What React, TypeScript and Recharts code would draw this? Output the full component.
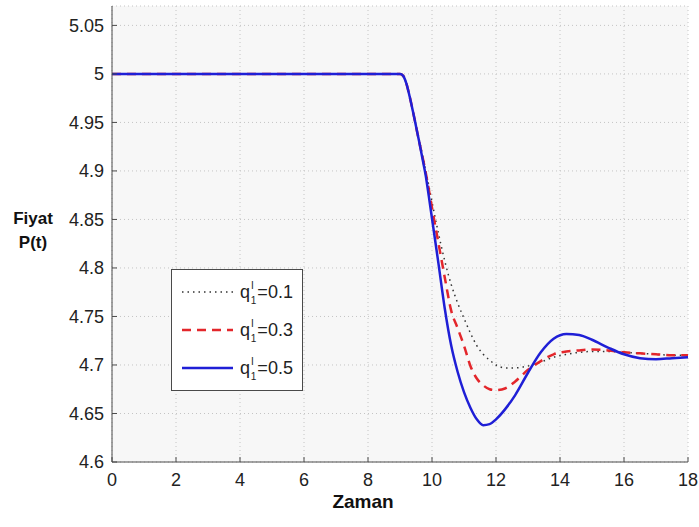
import React from "react"
import { LineChart, Line, XAxis, YAxis, CartesianGrid, Legend } from "recharts"

// time axis (Zaman)
const times = [
  0, 9, 9.1, 9.2, 9.3, 9.4, 9.5, 9.6, 9.7, 9.8, 9.9, 10, 10.2, 10.4, 10.6, 10.8, 11, 11.2, 11.4,
  11.6, 11.8, 12, 12.3, 12.6, 13, 13.4, 13.8, 14.2, 14.6, 15, 15.5, 16, 16.5, 17, 17.5, 18,
]

// P(t) for q1 = 0.1
const q01 = [
  5, 5, 4.998, 4.99, 4.977, 4.962, 4.947, 4.932, 4.917, 4.901, 4.885, 4.868, 4.836, 4.807, 4.783,
  4.764, 4.748, 4.733, 4.72, 4.711, 4.705, 4.7, 4.697, 4.697, 4.699, 4.703, 4.708, 4.711, 4.713,
  4.714, 4.714, 4.713, 4.712, 4.711, 4.71, 4.71,
]

// P(t) for q1 = 0.3
const q03 = [
  5, 5, 4.998, 4.99, 4.977, 4.962, 4.946, 4.93, 4.915, 4.899, 4.881, 4.862, 4.826, 4.79, 4.756,
  4.738, 4.72, 4.699, 4.686, 4.679, 4.675, 4.674, 4.676, 4.683, 4.695, 4.704, 4.711, 4.714, 4.715,
  4.716, 4.715, 4.713, 4.712, 4.711, 4.71, 4.71,
]

// P(t) for q1 = 0.5
const q05 = [
  5, 5, 4.998, 4.99, 4.977, 4.962, 4.946, 4.93, 4.913, 4.896, 4.874, 4.851, 4.805, 4.758, 4.72,
  4.693, 4.672, 4.656, 4.644, 4.638, 4.639, 4.644, 4.655, 4.669, 4.692, 4.713, 4.727, 4.732, 4.731,
  4.726, 4.718, 4.711, 4.707, 4.706, 4.707, 4.708,
]

const xTicks = [0, 2, 4, 6, 8, 10, 12, 14, 16, 18]
const yTicks = [4.6, 4.65, 4.7, 4.75, 4.8, 4.85, 4.9, 4.95, 5, 5.05]

const legendLabels = ["0.1", "0.3", "0.5"]

const data = times.map((t, i) => ({ t, a: q01[i], b: q03[i], c: q05[i] }))

const series = [
  { key: "a", color: "#333333", width: 1.5, dash: "1.5 4" },
  { key: "b", color: "#e3262b", width: 2.5, dash: "9 6" },
  { key: "c", color: "#1f1fd6", width: 2.5, dash: undefined },
]

const font = "'Liberation Sans', Arial, sans-serif"
const axisColor = "#4a4a4a"

function BottomTick({ x, y, payload }: any) {
  return (
    <g>
      <line x1={x} x2={x} y1={y - 11} y2={y - 16} stroke={axisColor} />
      <text x={x} y={y} dy="0.71em" textAnchor="middle" fontSize={18} fill="#222" fontFamily={font}>
        {payload.value}
      </text>
    </g>
  )
}

function LeftTick({ x, y, payload }: any) {
  return (
    <g>
      <line x1={x + 8} x2={x + 13} y1={y} y2={y} stroke={axisColor} />
      <text x={x} y={y} dy="0.355em" textAnchor="end" fontSize={18} fill="#222" fontFamily={font}>
        {payload.value}
      </text>
    </g>
  )
}

function TopTick({ x, y }: any) {
  return <line x1={x} x2={x} y1={y} y2={y + 5} stroke={axisColor} />
}

function RightTick({ x, y }: any) {
  return <line x1={x} x2={x - 5} y1={y} y2={y} stroke={axisColor} />
}

function XLabel() {
  return (
    <text x={363} y={508} textAnchor="middle" fontSize={19} fontWeight="bold" fill="#111" fontFamily={font}>
      Zaman
    </text>
  )
}

function YLabel() {
  return (
    <text textAnchor="middle" fontSize={17} fontWeight="bold" fill="#111" fontFamily={font}>
      <tspan x={33} y={224}>Fiyat</tspan>
      <tspan x={33} y={248}>P(t)</tspan>
    </text>
  )
}

function LegendBox() {
  return (
    <svg width={132} height={122} style={{ display: "block" }}>
      <rect x={0.5} y={0.5} width={131} height={121} fill="#ffffff" stroke={axisColor} />
      {series.map((s, i) => {
        const cy = 23 + i * 38
        return (
          <g key={s.key}>
            <line x1={11} x2={62} y1={cy} y2={cy} stroke={s.color} strokeWidth={s.width} strokeDasharray={s.dash} />
            <text x={69} y={cy + 6} fontSize={18} fill="#222" fontFamily={font}>
              <tspan>q</tspan>
              <tspan fontSize={10} dx={1} dy={-9}>I</tspan>
              <tspan fontSize={10} dx={-3} dy={15}>1</tspan>
              <tspan dx={1} dy={-6}>={legendLabels[i]}</tspan>
            </text>
          </g>
        )
      })}
    </svg>
  )
}

export default function App() {
  return (
    <div style={{ position: "absolute", left: 0, top: 0, width: 699, height: 527, background: "#fff" }}>
      <LineChart width={699} height={527} data={data} margin={{ top: 6, right: 11, bottom: 35, left: 52 }}>
        <CartesianGrid fill="#f7f7f7" stroke="#c4c4c4" strokeDasharray="1 3" />
        <XAxis
          dataKey="t"
          type="number"
          domain={[0, 18]}
          ticks={xTicks}
          height={30}
          tickSize={0}
          tickMargin={11}
          tickLine={false}
          stroke={axisColor}
          tick={<BottomTick />}
          label={<XLabel />}
        />
        <XAxis
          xAxisId="top"
          orientation="top"
          type="number"
          domain={[0, 18]}
          ticks={xTicks}
          height={0}
          tickSize={0}
          tickMargin={0}
          tickLine={false}
          stroke={axisColor}
          tick={<TopTick />}
        />
        <YAxis
          type="number"
          domain={[4.6, 5.07]}
          ticks={yTicks}
          width={60}
          tickSize={0}
          tickMargin={8}
          tickLine={false}
          stroke={axisColor}
          allowDataOverflow
          tick={<LeftTick />}
          label={<YLabel />}
        />
        <YAxis
          yAxisId="right"
          orientation="right"
          type="number"
          domain={[4.6, 5.07]}
          ticks={yTicks}
          width={0}
          tickSize={0}
          tickMargin={0}
          tickLine={false}
          stroke={axisColor}
          allowDataOverflow
          tick={<RightTick />}
        />
        <Legend
          layout="vertical"
          align="center"
          verticalAlign="middle"
          content={<LegendBox />}
          wrapperStyle={{ left: 171, top: 269, width: 132, height: 122 }}
        />
        {series.map((s) => (
          <Line
            key={s.key}
            dataKey={s.key}
            type="monotone"
            stroke={s.color}
            strokeWidth={s.width}
            strokeDasharray={s.dash}
            dot={false}
            activeDot={false}
            isAnimationActive={false}
          />
        ))}
      </LineChart>
    </div>
  )
}
